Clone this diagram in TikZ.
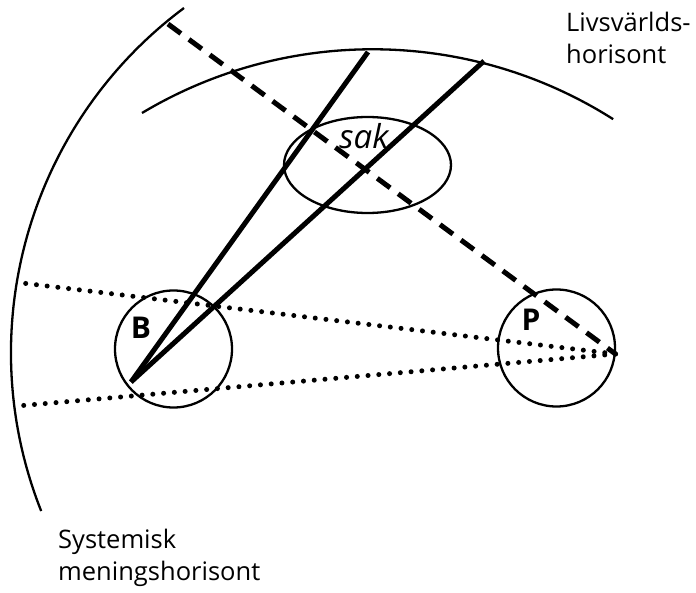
\documentclass[tikz,border=0pt]{standalone}
\usepackage{fontspec}
\setmainfont{Open Sans}
\usetikzlibrary{shapes.geometric}
\begin{document}
\begin{tikzpicture}[x=1pt,y=1pt,
  thin line/.style={line width=2.3pt},
  thick line/.style={line width=5pt},
  dashline/.style={line width=5pt, dash pattern=on 16pt off 10pt},
  dotline/.style={line width=5pt, line cap=round, dash pattern=on 0pt off 10.8pt},
  person/.style={circle, draw, line width=2.3pt, minimum size=117pt, inner sep=0pt},
  lbl/.style={inner sep=0pt, font=\fontsize{25.5}{32}\selectfont, align=left, anchor=north west}
]
\useasboundingbox (0,0) rectangle (696,592);
% horizons
\draw[thin line] (184,584) arc[start angle=126.7, end angle=201.6, radius=430];
\draw[thin line] (142,479) arc[start angle=120.9, end angle=57.6, radius=449];
% nodes
\node[person] (Bc) at (173.5,243) {};
\node[person] (Pc) at (556.5,244) {};
\node[ellipse, draw, line width=2.3pt, minimum width=167pt, minimum height=96pt, inner sep=0pt] (sak) at (367.5,427) {};
\node[inner sep=0pt, font=\fontsize{33}{33}\selectfont\itshape] (saklbl) at (364,456) {sak};
\node[inner sep=0pt, font=\fontsize{30}{30}\selectfont\bfseries] (Blbl) at (141,264) {B};
\node[inner sep=0pt, font=\fontsize{30}{30}\selectfont\bfseries] (Plbl) at (531,272) {P};
% points
\coordinate (apex) at (131,210);
\coordinate (t1) at (368,540);
\coordinate (t2) at (484,531);
\coordinate (d0) at (168,568);
\coordinate (pr) at (615.5,238);
\coordinate (l1) at (22,309);
\coordinate (l2) at (17,186);
% connectors
\draw[thick line] (apex) -- (t1);
\draw[thick line] (apex) -- (t2);
\draw[dashline] (d0) -- (pr);
\draw[dotline] (pr) -- (l1);
\draw[dotline] (pr) -- (l2);
% labels
\node[lbl] (lv) at (566,580) {Livsvärlds-\\horisont};
\node[lbl] (sm) at (58,63) {Systemisk\\meningshorisont};
\end{tikzpicture}
\end{document}
